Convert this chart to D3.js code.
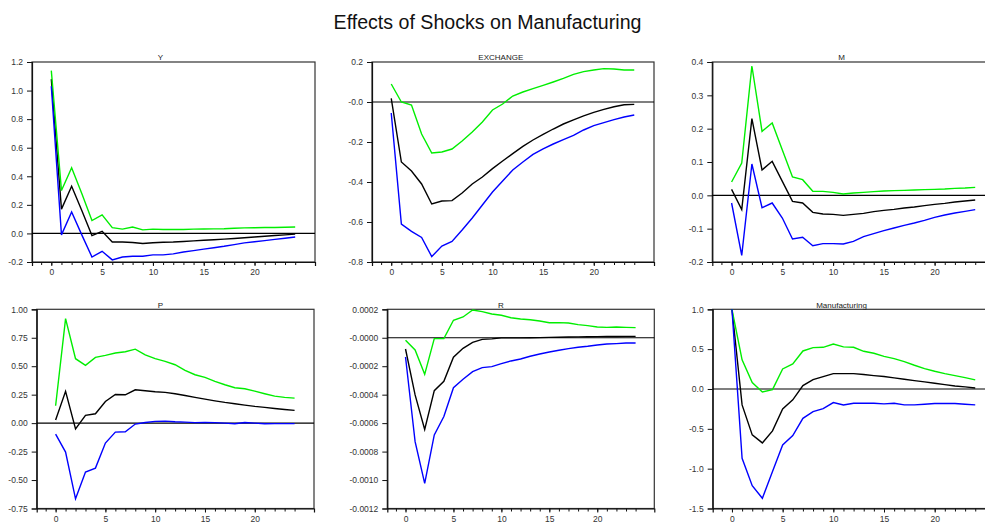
<!DOCTYPE html>
<html><head><meta charset="utf-8">
<script src="https://cdn.jsdelivr.net/npm/d3@7"></script>
<style>
body{margin:0;background:#fff}
svg{display:block}
text{font-family:"Liberation Sans",Arial,Helvetica,sans-serif}
</style>
</head><body>
<svg id="chart" width="985" height="523"></svg>
<script>
// ---------------- data ----------------
const chartTitle = "Effects of Shocks on Manufacturing";
const horizon = [0,1,2,3,4,5,6,7,8,9,10,11,12,13,14,15,16,17,18,19,20,21,22,23,24];
const xMajorTicks = [0,5,10,15,20];
const xMinorTicks = [-1,0,1,2,3,4,5,6,7,8,9,10,11,12,13,14,15,16,17,18,19,20,21,22,23,24];
const panelTitles = ["Y","EXCHANGE","M","P","R","Manufacturing"];

const Y_upper = [1.14,0.30,0.46,0.28,0.09,0.13,0.04,0.03,0.045,0.025,0.03,0.028,0.027,0.028,0.03,0.031,0.032,0.033,0.036,0.039,0.04,0.041,0.042,0.043,0.045];
const Y_irf   = [1.08,0.17,0.33,0.16,-0.015,0.015,-0.06,-0.06,-0.063,-0.07,-0.065,-0.062,-0.06,-0.056,-0.052,-0.048,-0.044,-0.04,-0.035,-0.03,-0.025,-0.02,-0.015,-0.01,-0.005];
const Y_lower = [1.03,-0.01,0.15,-0.01,-0.165,-0.125,-0.185,-0.165,-0.16,-0.16,-0.15,-0.15,-0.143,-0.13,-0.12,-0.11,-0.1,-0.09,-0.078,-0.066,-0.058,-0.05,-0.042,-0.034,-0.025];

const EX_upper = [0.09,0.0,-0.015,-0.16,-0.255,-0.25,-0.235,-0.195,-0.15,-0.10,-0.04,-0.01,0.03,0.05,0.067,0.083,0.1,0.118,0.138,0.152,0.16,0.167,0.165,0.16,0.16];
const EX_irf   = [0.018,-0.30,-0.345,-0.41,-0.51,-0.495,-0.493,-0.455,-0.41,-0.375,-0.333,-0.295,-0.258,-0.222,-0.19,-0.162,-0.135,-0.11,-0.089,-0.069,-0.052,-0.037,-0.024,-0.014,-0.012];
const EX_lower = [-0.055,-0.61,-0.647,-0.677,-0.773,-0.72,-0.697,-0.64,-0.58,-0.515,-0.45,-0.395,-0.34,-0.3,-0.262,-0.234,-0.21,-0.188,-0.167,-0.14,-0.118,-0.103,-0.088,-0.075,-0.065];

const M_upper = [0.04,0.097,0.388,0.192,0.217,0.136,0.055,0.047,0.012,0.012,0.009,0.004,0.007,0.009,0.011,0.013,0.014,0.015,0.016,0.017,0.018,0.019,0.021,0.022,0.024];
const M_irf   = [0.018,-0.043,0.23,0.076,0.102,0.042,-0.018,-0.023,-0.051,-0.056,-0.057,-0.06,-0.057,-0.054,-0.049,-0.045,-0.042,-0.038,-0.035,-0.031,-0.027,-0.024,-0.02,-0.017,-0.014];
const M_lower = [-0.023,-0.18,0.094,-0.037,-0.023,-0.068,-0.131,-0.126,-0.151,-0.145,-0.145,-0.146,-0.138,-0.124,-0.115,-0.106,-0.098,-0.09,-0.083,-0.075,-0.066,-0.059,-0.053,-0.048,-0.043];

const P_upper = [0.153,0.918,0.566,0.507,0.578,0.595,0.616,0.627,0.65,0.60,0.566,0.543,0.513,0.463,0.425,0.402,0.367,0.337,0.311,0.302,0.281,0.258,0.237,0.226,0.22];
const P_irf   = [0.027,0.279,-0.05,0.068,0.082,0.19,0.252,0.249,0.293,0.285,0.276,0.27,0.258,0.243,0.226,0.211,0.196,0.182,0.17,0.158,0.147,0.138,0.129,0.12,0.112];
const P_lower = [-0.096,-0.254,-0.665,-0.43,-0.395,-0.175,-0.079,-0.076,-0.008,0.006,0.015,0.018,0.012,0.009,0.004,0.006,0.004,0,-0.005,0.006,0,-0.005,-0.004,-0.004,-0.004];

const R_upper = [-0.000018,-0.000086,-0.000257,-0.000006,-0.000006,0.000123,0.000146,0.000195,0.000184,0.000167,0.000158,0.000141,0.000132,0.000127,0.000118,0.000106,0.000106,0.000104,0.000092,0.000085,0.000076,0.000073,0.000076,0.000073,0.000071];
const R_irf   = [-0.000079,-0.000402,-0.000645,-0.000372,-0.000306,-0.000137,-0.000074,-0.000032,-0.000011,-0.000008,-0.000001,-0.000001,-0.000001,0,0.000001,0.000003,0.000004,0.000005,0.000006,0.000007,0.000008,0.000009,0.000009,0.00001,0.00001];
const R_lower = [-0.000135,-0.00073,-0.001023,-0.000683,-0.000554,-0.000351,-0.000292,-0.000238,-0.00021,-0.000203,-0.000182,-0.000163,-0.000149,-0.00013,-0.000114,-0.0001,-0.000088,-0.000076,-0.000067,-0.00006,-0.000051,-0.000044,-0.000041,-0.000037,-0.000037];

const MF_upper = [1.0,0.365,0.08,-0.037,-0.008,0.252,0.314,0.477,0.519,0.523,0.565,0.528,0.523,0.473,0.448,0.41,0.381,0.344,0.298,0.256,0.222,0.193,0.168,0.143,0.114];
const MF_irf   = [1.0,-0.2,-0.576,-0.677,-0.526,-0.25,-0.137,0.043,0.118,0.156,0.193,0.193,0.193,0.181,0.168,0.156,0.139,0.122,0.105,0.089,0.072,0.055,0.038,0.026,0.013];
const MF_lower = [1.0,-0.87,-1.213,-1.372,-1.037,-0.702,-0.585,-0.368,-0.284,-0.246,-0.171,-0.2,-0.179,-0.179,-0.179,-0.187,-0.179,-0.2,-0.2,-0.192,-0.183,-0.183,-0.183,-0.192,-0.2];

const Y_yTicks  = [1.2,1.0,0.8,0.6,0.4,0.2,0.0,-0.2];
const Y_yLabels = ["1.2","1.0","0.8","0.6","0.4","0.2","0.0","-0.2"];
const EX_yTicks  = [0.2,0.0,-0.2,-0.4,-0.6,-0.8];
const EX_yLabels = ["0.2","-0.0","-0.2","-0.4","-0.6","-0.8"];
const M_yTicks  = [0.4,0.3,0.2,0.1,0.0,-0.1,-0.2];
const M_yLabels = ["0.4","0.3","0.2","0.1","0.0","-0.1","-0.2"];
const P_yTicks  = [1.0,0.75,0.5,0.25,0.0,-0.25,-0.5,-0.75];
const P_yLabels = ["1.00","0.75","0.50","0.25","0.00","-0.25","-0.50","-0.75"];
const R_yTicks  = [0.0002,0.0,-0.0002,-0.0004,-0.0006,-0.0008,-0.0010,-0.0012];
const R_yLabels = ["0.0002","-0.0000","-0.0002","-0.0004","-0.0006","-0.0008","-0.0010","-0.0012"];
const MF_yTicks  = [1.0,0.5,0.0,-0.5,-1.0,-1.5];
const MF_yLabels = ["1.0","0.5","0.0","-0.5","-1.0","-1.5"];

// ---------------- layout ----------------
const xDomain = [-1.9, 25.95];
const panels = [
  {title:panelTitles[0], up:Y_upper,  mid:Y_irf,  lo:Y_lower,  ticks:Y_yTicks,  labels:Y_yLabels,  dom:[-0.2,1.2],
   L:32,    R:315,   T:62,    B:262,   tx:160.5, ty:60},
  {title:panelTitles[1], up:EX_upper, mid:EX_irf, lo:EX_lower, ticks:EX_yTicks, labels:EX_yLabels, dom:[-0.8,0.2],
   L:372,   R:654,   T:62,    B:262,   tx:500.8, ty:60},
  {title:panelTitles[2], up:M_upper,  mid:M_irf,  lo:M_lower,  ticks:M_yTicks,  labels:M_yLabels,  dom:[-0.2,0.4],
   L:712.3, R:995,   T:62,    B:262,   tx:841.5, ty:60},
  {title:panelTitles[3], up:P_upper,  mid:P_irf,  lo:P_lower,  ticks:P_yTicks,  labels:P_yLabels,  dom:[-0.75,1.0],
   L:36.7,  R:314,   T:309.3, B:508.5, tx:160.5, ty:307.5},
  {title:panelTitles[4], up:R_upper,  mid:R_irf,  lo:R_lower,  ticks:R_yTicks,  labels:R_yLabels,  dom:[-0.0012,0.0002],
   L:387.3, R:654.3, T:309.3, B:508.5, tx:500.8, ty:307.5},
  {title:panelTitles[5], up:MF_upper, mid:MF_irf, lo:MF_lower, ticks:MF_yTicks, labels:MF_yLabels, dom:[-1.5,1.0],
   L:712.7, R:995,   T:309.3, B:508.5, tx:841.5, ty:307.5}
];

const svg = d3.select("#chart");

svg.append("text")
  .attr("x", 487.5).attr("y", 29)
  .attr("text-anchor","middle")
  .attr("font-size", 19.6)
  .attr("fill","#111")
  .text(chartTitle);

panels.forEach(p => {
  const x = d3.scaleLinear().domain(xDomain).range([p.L, p.R]);
  const y = d3.scaleLinear().domain(p.dom).range([p.B, p.T]);
  const g = svg.append("g");

  // panel title
  g.append("text").attr("x", p.tx).attr("y", p.ty)
    .attr("text-anchor","middle").attr("font-size", 8).attr("fill","#222")
    .text(p.title);

  // frame
  g.append("rect").attr("x", p.L).attr("y", p.T)
    .attr("width", p.R - p.L).attr("height", p.B - p.T)
    .attr("fill","none").attr("stroke","#333").attr("stroke-width",1.2);

  // y axis
  const yAxis = d3.axisLeft(y).tickValues(p.ticks)
    .tickFormat((d,i) => p.labels[i]).tickSize(5).tickPadding(4);
  const ya = g.append("g").attr("transform",`translate(${p.L},0)`).call(yAxis);
  ya.select(".domain").attr("stroke","#111").attr("stroke-width",1.2);
  ya.selectAll(".tick line").attr("stroke","#111");
  ya.selectAll(".tick text").attr("font-size",8.5).attr("fill","#333")
    .attr("font-family","'Liberation Sans',Arial,sans-serif");

  // x axis minor ticks
  const xMinor = d3.axisBottom(x).tickValues(xMinorTicks).tickSize(3).tickFormat("");
  const xm = g.append("g").attr("transform",`translate(0,${p.B})`).call(xMinor);
  xm.select(".domain").remove();
  xm.selectAll(".tick line").attr("stroke","#111");

  // x axis major ticks
  const xAxis = d3.axisBottom(x).tickValues(xMajorTicks).tickSize(4).tickPadding(3).tickFormat(d3.format("d"));
  const xa = g.append("g").attr("transform",`translate(0,${p.B})`).call(xAxis);
  xa.select(".domain").attr("stroke","#111").attr("stroke-width",1.2);
  xa.selectAll(".tick line").attr("stroke","#111");
  xa.selectAll(".tick text").attr("font-size",8.5).attr("fill","#333")
    .attr("font-family","'Liberation Sans',Arial,sans-serif");

  // zero line
  g.append("line").attr("x1",p.L).attr("x2",p.R)
    .attr("y1",y(0)).attr("y2",y(0))
    .attr("stroke","#000").attr("stroke-width",1.2);

  const line = d3.line().x((d,i) => x(horizon[i])).y(d => y(d));
  [[p.mid,"#000000"],[p.up,"#00ee00"],[p.lo,"#0000ff"]].forEach(([vals,col]) => {
    g.append("path").datum(vals).attr("d", line)
      .attr("fill","none").attr("stroke",col).attr("stroke-width",1.4)
      .attr("stroke-linejoin","miter");
  });
});
</script>
</body></html>
